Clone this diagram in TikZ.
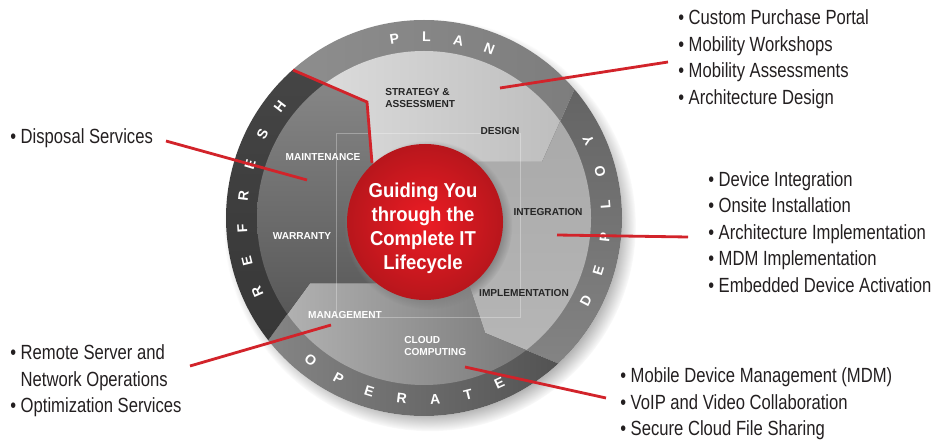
\documentclass[tikz,border=0pt]{standalone}
\usepackage{fontspec}
\setmainfont{Liberation Sans}
\newfontfamily\narrowfont[FakeStretch=0.81]{Liberation Sans}
\newfontfamily\hubfont[FakeStretch=0.92]{Liberation Sans}
\usetikzlibrary{positioning,shadows}

\definecolor{leaderred}{HTML}{D2232A}
\definecolor{hubred}{HTML}{EC1C24}
\definecolor{hubreddark}{HTML}{B8161C}
\definecolor{listgray}{HTML}{231F20}

\begin{document}
\begin{tikzpicture}[
    x=0.025cm, y=0.025cm,
    phase/.style={font=\bfseries\fontsize{7.2}{8.6}\selectfont, inner sep=0pt},
    darklabel/.style={phase, text=black!85},
    lightlabel/.style={phase, text=white},
    ringletter/.style={font=\bfseries\fontsize{10}{11}\selectfont, text=white, inner sep=0pt},
    hubtext/.style={font=\hubfont\bfseries\fontsize{14.3}{17}\selectfont, text=white, align=center, inner sep=0pt},
    services/.style={font=\narrowfont\fontsize{14.6}{18.85}\selectfont, text=listgray, align=left, anchor=west, inner sep=0pt},
    leader/.style={draw=leaderred, line width=2pt}
]
\useasboundingbox (0,0) rectangle (938,441);

% Corner points of the four sectors
\coordinate (hub) at (425,219);
\coordinate (nw) at (372,278);
\coordinate (kink) at (367,339);
\coordinate (rim) at (293,371);
\coordinate (nwout) at (220,402);
\coordinate (ne) at (475,279);
\coordinate (neknee) at (542,279);
\coordinate (nering) at (572,346);
\coordinate (neout) at (600,409);
\coordinate (se) at (470,153);
\coordinate (seknee) at (485,108);
\coordinate (sering) at (557,78);
\coordinate (seout) at (629,48);
\coordinate (sw) at (376,158);
\coordinate (swknee) at (310,158);
\coordinate (swout) at (229,47);

% Wheel shadow
\fill[white, circular drop shadow={shadow xshift=4pt, shadow yshift=-5pt, shadow scale=1.04}] (424,223) circle (198);

% Plan sector
\begin{scope}
  \clip (hub) -- (nw) -- (kink) -- (nwout) -- (220,470) -- (620,470) -- (neout) -- (nering) -- (neknee) -- (ne) -- cycle;
  \shade[left color=black!43, right color=black!52] (424,223) circle (198);
  \shade[left color=black!11, right color=black!27] (424,223) circle (167);
\end{scope}

% Deploy sector
\begin{scope}
  \clip (hub) -- (ne) -- (neknee) -- (nering) -- (neout) -- (620,470) -- (700,470) -- (700,48) -- (seout) -- (sering) -- (seknee) -- (se) -- cycle;
  \shade[top color=black!64, bottom color=black!46] (424,223) circle (198);
  \shade[top color=black!35, bottom color=black!28] (424,223) circle (167);
\end{scope}

% Operate sector
\begin{scope}
  \clip (hub) -- (se) -- (seknee) -- (sering) -- (seout) -- (629,-20) -- (200,-20) -- (swout) -- (swknee) -- (sw) -- cycle;
  \shade[left color=black!45, right color=black!72] (424,223) circle (198);
  \shade[left color=black!28, right color=black!58] (424,223) circle (167);
\end{scope}

% Refresh sector
\begin{scope}
  \clip (hub) -- (sw) -- (swknee) -- (swout) -- (200,-20) -- (150,-20) -- (150,470) -- (220,470) -- (nwout) -- (kink) -- (nw) -- cycle;
  \shade[top color=black!72, bottom color=black!80] (424,223) circle (198);
  \shade[top color=black!45, bottom color=black!71] (424,223) circle (167);
\end{scope}

% Thin frame behind the hub
\draw[white, opacity=0.3, line width=0.4pt] (336,308) rectangle (520,124);

% Ring lettering
\begin{scope}[shift={(424,223)}]
  \foreach \ch [count=\i] in {P,L,A,N}
    \node[ringletter, rotate={19.6-10.2*\i}] (plan\i) at ({109.6-10.2*\i}:181) {\ch};
  \foreach \ch [count=\i] in {D,E,P,L,O,Y}
    \node[ringletter, rotate={52.3+10.5*\i}] (deploy\i) at ({-37.7+10.5*\i}:182) {\ch};
  \foreach \ch [count=\i] in {O,P,E,R,A,T,E}
    \node[ringletter, rotate={-49+10.5*\i}] (operate\i) at ({-139+10.5*\i}:182) {\ch};
  \foreach \ch [count=\i] in {R,E,F,R,E,S,H}
    \node[ringletter, rotate={124.03-10.23*\i}] (refresh\i) at ({214.03-10.23*\i}:182) {\ch};
\end{scope}

% Sector labels
\node[darklabel, align=left, anchor=west] (strategy) at (385,343) {STRATEGY \&\\ASSESSMENT};
\node[darklabel] (design) at (500,310) {DESIGN};
\node[lightlabel] (maintenance) at (323,284) {MAINTENANCE};
\node[lightlabel] (warranty) at (302,205) {WARRANTY};
\node[darklabel] (integration) at (548,229) {INTEGRATION};
\node[darklabel] (implementation) at (524,148) {IMPLEMENTATION};
\node[lightlabel] (management) at (345,126) {MANAGEMENT};
\node[lightlabel, align=left, anchor=west] (cloud) at (404,95) {CLOUD\\COMPUTING};

% Service lists
\node[services] (planlist) at (678,382) {\textbullet\ Custom Purchase Portal\\\textbullet\ Mobility Workshops\\\textbullet\ Mobility Assessments\\\textbullet\ Architecture Design};
\node[services] (deploylist) at (708,209) {\textbullet\ Device Integration\\\textbullet\ Onsite Installation\\\textbullet\ Architecture Implementation\\\textbullet\ MDM Implementation\\\textbullet\ Embedded Device Activation};
\node[services] (cloudlist) at (620,37) {\textbullet\ Mobile Device Management (MDM)\\\textbullet\ VoIP and Video Collaboration\\\textbullet\ Secure Cloud File Sharing};
\node[services] (operatelist) at (10,60) {\textbullet\ Remote Server and\\\hphantom{\textbullet\ }Network Operations\\\textbullet\ Optimization Services};
\node[services] (refreshlist) at (10,303) {\textbullet\ Disposal Services};

% Leader lines
\coordinate (planpt) at (500,353);
\coordinate (planend) at (668,379);
\coordinate (maintpt) at (307,261);
\coordinate (refreshend) at (166,300);
\coordinate (integpt) at (557,206);
\coordinate (deployend) at (688,204);
\coordinate (managept) at (331,116);
\coordinate (operateend) at (190,75);
\coordinate (cloudpt) at (465,74);
\coordinate (cloudend) at (606,43);

\draw[leader] (rim) -- (kink) -- (nw);
\draw[leader] (planpt) -- (planend);
\draw[leader] (maintpt) -- (refreshend);
\draw[leader] (integpt) -- (deployend);
\draw[leader] (managept) -- (operateend);
\draw[leader] (cloudpt) -- (cloudend);

% Hub
\shade[inner color=hubred, outer color=hubreddark, circular drop shadow={shadow xshift=2pt, shadow yshift=-2pt, shadow scale=1.08}] (hub) circle (78);
\node[hubtext] (hubtitle) at (423,213) {Guiding You\\through the\\Complete IT\\Lifecycle};

\end{tikzpicture}
\end{document}
